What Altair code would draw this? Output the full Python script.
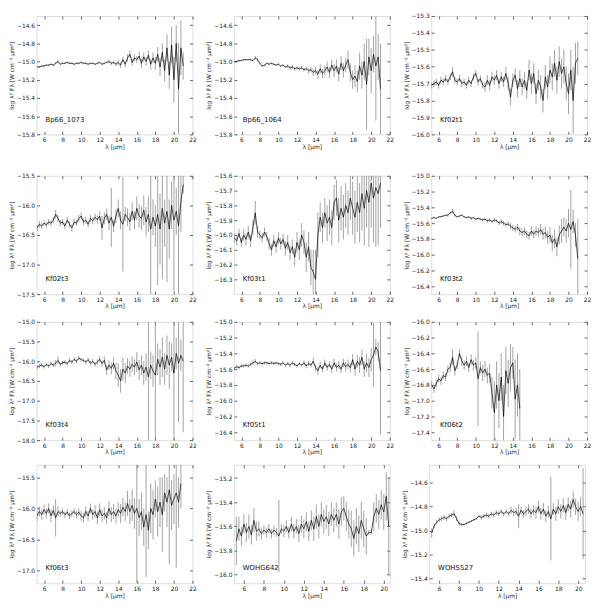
import altair as alt
import pandas as pd

# Wavelength grid (micron) shared by the spectra; each panel uses as many as it has values
wave = [5.25, 5.5, 5.75, 6.0, 6.25, 6.5, 6.75, 7.0, 7.25, 7.5,
        7.75, 8.0, 8.25, 8.5, 8.75, 9.0, 9.25, 9.5, 9.75, 10.0,
        10.25, 10.5, 10.75, 11.0, 11.25, 11.5, 11.75, 12.0, 12.25, 12.5,
        12.75, 13.0, 13.25, 13.5, 13.75, 14.0, 14.25, 14.5, 14.75, 15.0,
        15.25, 15.5, 15.75, 16.0, 16.25, 16.5, 16.75, 17.0, 17.25, 17.5,
        17.75, 18.0, 18.25, 18.5, 18.75, 19.0, 19.25, 19.5, 19.75, 20.0,
        20.25, 20.5, 20.75, 21.0]

names = ["Bp66_1073", "Bp66_1064", "Kf02t1", "Kf02t3", "Kf03t1", "Kf03t2",
         "Kf03t4", "Kf05t1", "Kf06t2", "Kf06t3", "WOHG642", "WOHS527"]

flux_bp66_1073 = [-15.06,-15.06,-15.05,-15.05,-15.04,-15.04,-15.03,-15.04,-15.02,-15.00,
 -15.03,-15.02,-15.02,-15.01,-15.02,-15.02,-15.03,-15.02,-15.02,-15.01,
 -15.02,-15.02,-15.03,-15.02,-15.02,-15.03,-15.02,-15.01,-15.03,-15.02,
 -15.01,-15.00,-15.02,-15.01,-15.03,-15.01,-15.04,-14.98,-15.03,-14.96,
 -14.92,-15.01,-14.96,-14.98,-14.94,-15.02,-14.95,-15.00,-14.93,-15.03,
 -14.96,-15.02,-14.92,-15.06,-14.90,-15.10,-14.85,-15.15,-14.82,-15.20,
 -14.80,-15.30,-14.85,-15.05]
err_bp66_1073 = [0.01,0.01,0.01,0.01,0.01,0.01,0.01,0.01,0.01,0.02,
 0.01,0.01,0.01,0.01,0.01,0.01,0.01,0.01,0.01,0.01,
 0.01,0.01,0.01,0.01,0.01,0.01,0.01,0.01,0.01,0.01,
 0.01,0.02,0.02,0.02,0.02,0.03,0.03,0.03,0.03,0.04,
 0.04,0.04,0.04,0.04,0.05,0.05,0.05,0.05,0.05,0.06,
 0.06,0.07,0.08,0.10,0.10,0.12,0.15,0.15,0.20,0.25,
 0.20,0.50,0.30,0.15]

flux_bp66_1064 = [-15.00,-15.00,-14.99,-14.99,-14.98,-14.98,-14.98,-14.98,-14.99,-14.96,
 -14.98,-15.02,-15.05,-15.04,-15.02,-15.03,-15.02,-15.03,-15.04,-15.03,
 -15.05,-15.04,-15.06,-15.05,-15.07,-15.06,-15.08,-15.07,-15.08,-15.07,
 -15.09,-15.08,-15.10,-15.09,-15.12,-15.10,-15.14,-15.08,-15.13,-15.10,
 -15.06,-15.12,-15.04,-15.10,-15.05,-15.14,-15.02,-15.10,-15.04,-14.98,
 -15.12,-15.20,-15.16,-15.22,-15.05,-15.15,-15.00,-15.25,-14.95,-15.10,
 -14.92,-15.05,-14.95,-15.30]
err_bp66_1064 = [0.01,0.01,0.01,0.01,0.01,0.01,0.01,0.01,0.01,0.02,
 0.02,0.01,0.01,0.01,0.01,0.01,0.01,0.01,0.01,0.01,
 0.01,0.01,0.01,0.02,0.02,0.02,0.02,0.02,0.02,0.02,
 0.02,0.02,0.03,0.03,0.04,0.04,0.05,0.05,0.05,0.05,
 0.06,0.06,0.06,0.07,0.07,0.08,0.08,0.08,0.08,0.10,
 0.10,0.10,0.12,0.12,0.15,0.15,0.20,0.50,0.20,0.25,
 0.20,0.60,0.25,0.50]

flux_kf02t1 = [-15.71,-15.70,-15.69,-15.71,-15.68,-15.69,-15.67,-15.69,-15.66,-15.63,
 -15.68,-15.69,-15.67,-15.70,-15.69,-15.71,-15.68,-15.70,-15.66,-15.64,
 -15.69,-15.67,-15.71,-15.72,-15.68,-15.71,-15.66,-15.68,-15.65,-15.70,
 -15.66,-15.69,-15.64,-15.70,-15.78,-15.68,-15.65,-15.73,-15.67,-15.72,
 -15.68,-15.74,-15.62,-15.70,-15.64,-15.76,-15.68,-15.72,-15.80,-15.66,
 -15.72,-15.62,-15.66,-15.58,-15.68,-15.57,-15.64,-15.60,-15.70,-15.76,
 -15.62,-15.80,-15.58,-15.55]
err_kf02t1 = [0.02,0.02,0.02,0.02,0.02,0.02,0.02,0.02,0.02,0.03,
 0.02,0.02,0.02,0.02,0.02,0.02,0.02,0.02,0.02,0.02,
 0.02,0.02,0.02,0.03,0.03,0.03,0.03,0.03,0.03,0.03,
 0.03,0.03,0.04,0.04,0.05,0.04,0.04,0.05,0.05,0.05,
 0.05,0.05,0.06,0.06,0.06,0.06,0.06,0.07,0.07,0.07,
 0.07,0.08,0.08,0.08,0.08,0.09,0.09,0.10,0.10,0.12,
 0.12,0.20,0.12,0.10]

flux_kf02t3 = [-16.38,-16.32,-16.35,-16.30,-16.33,-16.28,-16.30,-16.25,-16.15,-16.22,
 -16.30,-16.28,-16.35,-16.25,-16.32,-16.38,-16.28,-16.30,-16.22,-16.18,
 -16.28,-16.25,-16.32,-16.22,-16.26,-16.20,-16.24,-16.18,-16.38,-16.22,
 -16.15,-16.30,-16.20,-16.35,-16.18,-16.05,-16.25,-16.32,-16.15,-16.20,
 -16.28,-16.10,-16.25,-16.05,-16.18,-16.22,-16.08,-16.28,-16.15,-16.40,
 -16.20,-16.35,-16.15,-16.40,-16.05,-16.30,-16.10,-16.40,-16.00,-16.25,
 -16.10,-16.35,-15.95,-15.65]
err_kf02t3 = [0.05,0.05,0.05,0.05,0.05,0.05,0.05,0.05,0.07,0.06,
 0.05,0.05,0.06,0.05,0.05,0.06,0.05,0.05,0.06,0.06,
 0.06,0.06,0.06,0.06,0.06,0.06,0.07,0.08,0.20,0.10,
 0.10,0.12,0.50,0.10,0.12,0.15,0.15,0.80,0.12,0.15,
 0.15,0.15,0.15,0.20,0.20,0.20,0.25,0.25,0.30,1.20,
 0.30,0.35,1.20,0.60,1.20,0.40,1.20,0.50,0.40,1.20,
 0.40,1.20,0.50,0.15]

flux_kf03t1 = [-16.02,-16.04,-15.99,-16.05,-16.00,-16.03,-15.98,-16.04,-15.95,-15.85,
 -15.98,-16.00,-16.02,-15.98,-16.01,-16.06,-16.10,-16.04,-16.08,-16.02,
 -16.06,-16.03,-16.09,-16.05,-16.12,-16.08,-16.15,-16.05,-16.10,-16.00,
 -16.05,-16.15,-16.08,-16.22,-16.25,-16.30,-16.00,-15.88,-15.95,-15.85,
 -15.92,-15.88,-15.95,-15.78,-15.75,-15.90,-15.82,-15.88,-15.80,-15.85,
 -15.75,-15.82,-15.88,-15.78,-15.85,-15.72,-15.82,-15.70,-15.78,-15.65,
 -15.75,-15.68,-15.72,-15.65]
err_kf03t1 = [0.03,0.03,0.03,0.03,0.04,0.04,0.04,0.04,0.05,0.08,
 0.04,0.03,0.03,0.03,0.03,0.04,0.04,0.04,0.04,0.04,
 0.04,0.04,0.05,0.05,0.05,0.05,0.06,0.07,0.07,0.08,
 0.08,0.10,0.10,0.12,0.15,0.20,0.15,0.10,0.10,0.10,
 0.12,0.12,0.12,0.12,0.12,0.15,0.15,0.15,0.15,0.15,
 0.15,0.18,0.18,0.20,0.20,0.25,0.25,0.25,0.30,0.30,
 0.30,0.40,0.35,0.30]

flux_kf03t2 = [-15.54,-15.53,-15.54,-15.52,-15.52,-15.51,-15.50,-15.50,-15.47,-15.45,
 -15.50,-15.52,-15.51,-15.50,-15.52,-15.53,-15.52,-15.54,-15.53,-15.55,
 -15.54,-15.55,-15.56,-15.55,-15.57,-15.56,-15.58,-15.56,-15.57,-15.60,
 -15.58,-15.60,-15.62,-15.61,-15.64,-15.66,-15.68,-15.65,-15.70,-15.72,
 -15.70,-15.74,-15.76,-15.70,-15.74,-15.70,-15.72,-15.68,-15.74,-15.72,
 -15.78,-15.75,-15.85,-15.80,-15.90,-15.75,-15.70,-15.65,-15.70,-15.60,
 -15.68,-15.58,-15.75,-16.05]
err_kf03t2 = [0.01,0.01,0.01,0.01,0.01,0.01,0.01,0.02,0.02,0.03,
 0.02,0.01,0.01,0.01,0.01,0.01,0.01,0.02,0.01,0.01,
 0.01,0.01,0.02,0.02,0.02,0.02,0.02,0.03,0.02,0.03,
 0.03,0.03,0.03,0.03,0.04,0.04,0.04,0.04,0.05,0.05,
 0.05,0.05,0.05,0.06,0.05,0.06,0.06,0.07,0.07,0.08,
 0.08,0.10,0.10,0.12,0.12,0.12,0.15,0.12,0.15,0.18,
 0.50,0.15,0.15,0.50]

flux_kf03t4 = [-16.15,-16.12,-16.10,-16.14,-16.08,-16.12,-16.06,-16.10,-16.05,-15.98,
 -16.08,-16.04,-16.02,-16.06,-15.98,-16.02,-15.95,-16.00,-15.92,-15.96,
 -15.98,-16.02,-15.96,-16.05,-16.00,-16.08,-16.02,-15.95,-16.06,-15.98,
 -16.22,-16.10,-16.18,-16.05,-16.25,-16.35,-16.50,-16.20,-16.30,-16.12,
 -16.20,-16.08,-16.15,-16.02,-16.22,-16.10,-16.30,-16.15,-16.40,-16.10,
 -16.25,-16.35,-15.95,-16.15,-15.90,-16.20,-15.85,-16.10,-15.90,-16.30,
 -15.80,-16.05,-15.85,-16.00]
err_kf03t4 = [0.05,0.05,0.05,0.05,0.05,0.05,0.05,0.05,0.08,0.10,
 0.05,0.05,0.05,0.05,0.05,0.05,0.05,0.05,0.05,0.05,
 0.05,0.05,0.05,0.06,0.06,0.06,0.07,0.07,0.08,0.10,
 0.12,0.12,0.15,0.15,0.20,0.30,0.30,0.30,0.25,0.20,
 0.20,0.20,0.20,0.25,0.25,0.25,0.30,0.35,1.80,0.35,
 0.40,1.80,0.40,0.45,0.50,0.40,0.50,0.60,0.35,1.80,
 0.40,1.50,0.40,1.80]

flux_kf05t1 = [-15.59,-15.57,-15.58,-15.56,-15.56,-15.55,-15.56,-15.54,-15.52,-15.50,
 -15.53,-15.52,-15.53,-15.52,-15.52,-15.53,-15.52,-15.53,-15.52,-15.53,
 -15.54,-15.52,-15.55,-15.53,-15.55,-15.52,-15.54,-15.56,-15.53,-15.55,
 -15.52,-15.56,-15.53,-15.55,-15.50,-15.58,-15.62,-15.55,-15.60,-15.52,
 -15.58,-15.54,-15.60,-15.52,-15.58,-15.55,-15.60,-15.52,-15.57,-15.54,
 -15.58,-15.48,-15.60,-15.50,-15.55,-15.45,-15.60,-15.52,-15.58,-15.48,
 -15.42,-15.32,-15.38,-15.62]
err_kf05t1 = [0.02,0.02,0.02,0.02,0.02,0.02,0.02,0.02,0.03,0.03,
 0.02,0.02,0.02,0.02,0.02,0.02,0.02,0.02,0.02,0.02,
 0.02,0.02,0.02,0.02,0.02,0.02,0.02,0.02,0.02,0.02,
 0.03,0.03,0.03,0.03,0.04,0.04,0.05,0.04,0.04,0.04,
 0.04,0.04,0.05,0.05,0.05,0.05,0.05,0.05,0.06,0.06,
 0.06,0.07,0.08,0.08,0.10,0.10,0.10,0.12,0.12,0.15,
 0.40,0.10,0.12,0.80]

flux_kf06t2 = [-16.80,-16.85,-16.78,-16.72,-16.75,-16.68,-16.70,-16.60,-16.58,-16.45,
 -16.62,-16.55,-16.40,-16.50,-16.55,-16.50,-16.58,-16.48,-16.55,-16.52,
 -16.72,-16.58,-16.65,-16.60,-16.68,-16.65,-16.90,-17.15,-16.80,-17.00,
 -16.70,-17.20,-16.62,-16.78,-16.58,-16.52,-16.98,-16.80,-17.10]
err_kf06t2 = [0.05,0.05,0.05,0.05,0.05,0.05,0.05,0.05,0.06,0.10,
 0.06,0.05,0.05,0.06,0.06,0.06,0.06,0.07,0.07,0.07,
 0.60,0.08,0.10,0.10,0.10,0.12,0.20,0.40,0.30,0.35,
 0.30,0.40,0.30,0.30,0.30,0.20,0.50,0.40,0.50]

flux_kf06t3 = [-16.12,-16.05,-16.10,-16.02,-16.08,-16.00,-16.12,-16.03,-16.15,-16.05,
 -16.08,-16.05,-16.10,-16.06,-16.12,-16.08,-16.05,-16.10,-16.06,-16.12,
 -16.15,-16.05,-16.12,-16.00,-16.10,-16.05,-16.15,-16.02,-16.12,-16.08,
 -16.15,-16.00,-16.10,-16.05,-16.12,-16.02,-16.08,-15.98,-16.05,-15.92,
 -16.05,-15.95,-16.08,-16.00,-16.15,-16.05,-16.30,-16.10,-16.35,-16.00,
 -16.10,-15.85,-16.05,-15.90,-16.10,-15.75,-15.90,-15.70,-15.95,-15.85,
 -15.75,-15.90,-15.60]
err_kf06t3 = [0.08,0.08,0.08,0.08,0.08,0.08,0.10,0.08,0.30,0.08,
 0.05,0.05,0.05,0.05,0.05,0.05,0.05,0.06,0.06,0.08,
 0.08,0.08,0.08,0.08,0.08,0.10,0.10,0.10,0.10,0.10,
 0.10,0.12,0.12,0.12,0.12,0.12,0.15,0.15,0.15,0.20,
 0.20,0.25,0.25,1.20,0.30,0.30,0.30,1.00,0.30,0.40,
 0.40,0.30,0.40,0.40,0.60,0.30,0.40,1.20,0.40,0.40,
 1.20,0.40,0.40]

flux_wohg642 = [-15.72,-15.62,-15.68,-15.58,-15.65,-15.60,-15.67,-15.55,-15.64,-15.62,
 -15.66,-15.63,-15.65,-15.62,-15.66,-15.63,-15.65,-15.68,-15.62,-15.64,
 -15.60,-15.65,-15.58,-15.64,-15.60,-15.66,-15.58,-15.62,-15.56,-15.64,
 -15.55,-15.62,-15.52,-15.60,-15.50,-15.56,-15.52,-15.58,-15.50,-15.55,
 -15.50,-15.58,-15.48,-15.45,-15.52,-15.58,-15.62,-15.70,-15.60,-15.66,
 -15.55,-15.62,-15.68,-15.65,-15.65,-15.52,-15.45,-15.50,-15.42,-15.48,
 -15.35,-15.60]
err_wohg642 = [0.20,0.10,0.08,0.08,0.08,0.10,0.08,0.10,0.08,0.06,
 0.05,0.04,0.04,0.04,0.04,0.04,0.04,0.30,0.04,0.05,
 0.05,0.05,0.06,0.06,0.06,0.07,0.07,0.08,0.08,0.08,
 0.08,0.10,0.10,0.10,0.10,0.10,0.10,0.10,0.10,0.10,
 0.10,0.12,0.12,0.10,0.12,0.12,0.15,0.15,0.15,0.15,
 0.15,0.15,0.15,0.02,0.02,0.12,0.12,0.12,0.12,0.15,
 0.20,0.40]

flux_wohs527 = [-15.02,-14.96,-14.93,-14.91,-14.90,-14.89,-14.90,-14.88,-14.87,-14.86,
 -14.90,-14.94,-14.95,-14.95,-14.94,-14.93,-14.92,-14.91,-14.90,-14.88,
 -14.89,-14.88,-14.87,-14.88,-14.86,-14.87,-14.85,-14.86,-14.84,-14.86,
 -14.84,-14.86,-14.83,-14.85,-14.84,-14.88,-14.83,-14.86,-14.84,-14.82,
 -14.86,-14.83,-14.85,-14.80,-14.86,-14.82,-14.88,-14.84,-14.90,-14.82,
 -14.86,-14.80,-14.84,-14.79,-14.85,-14.78,-14.82,-14.74,-14.80,-14.84,
 -14.80,-14.86]
err_wohs527 = [0.04,0.02,0.02,0.02,0.02,0.02,0.02,0.02,0.02,0.03,
 0.02,0.02,0.01,0.01,0.01,0.01,0.01,0.01,0.01,0.01,
 0.02,0.02,0.02,0.02,0.02,0.02,0.02,0.02,0.02,0.02,
 0.02,0.02,0.03,0.03,0.03,0.10,0.03,0.03,0.04,0.04,
 0.04,0.04,0.05,0.05,0.05,0.05,0.05,0.05,0.35,0.05,
 0.06,0.06,0.06,0.06,0.06,0.06,0.07,0.07,0.07,0.08,
 0.08,0.38]

fluxes = [flux_bp66_1073, flux_bp66_1064, flux_kf02t1, flux_kf02t3, flux_kf03t1, flux_kf03t2,
          flux_kf03t4, flux_kf05t1, flux_kf06t2, flux_kf06t3, flux_wohg642, flux_wohs527]
errors = [err_bp66_1073, err_bp66_1064, err_kf02t1, err_kf02t3, err_kf03t1, err_kf03t2,
          err_kf03t4, err_kf05t1, err_kf06t2, err_kf06t3, err_wohg642, err_wohs527]

y_domains = [[-15.8, -14.5], [-15.8, -14.5], [-16.0, -15.3], [-17.5, -15.5],
             [-16.4, -15.6], [-16.5, -15.0], [-18.0, -15.0], [-16.5, -15.0],
             [-17.5, -16.0], [-17.2, -15.3], [-16.07, -15.09], [-15.44, -14.45]]
y_ticks = [[-15.8, -15.6, -15.4, -15.2, -15.0, -14.8, -14.6],
           [-15.8, -15.6, -15.4, -15.2, -15.0, -14.8, -14.6],
           [-16.0, -15.9, -15.8, -15.7, -15.6, -15.5, -15.4, -15.3],
           [-17.5, -17.0, -16.5, -16.0, -15.5],
           [-16.3, -16.2, -16.1, -16.0, -15.9, -15.8, -15.7, -15.6],
           [-16.4, -16.2, -16.0, -15.8, -15.6, -15.4, -15.2, -15.0],
           [-18.0, -17.5, -17.0, -16.5, -16.0, -15.5, -15.0],
           [-16.4, -16.2, -16.0, -15.8, -15.6, -15.4, -15.2, -15.0],
           [-17.4, -17.2, -17.0, -16.8, -16.6, -16.4, -16.2, -16.0],
           [-17.0, -16.5, -16.0, -15.5],
           [-16.0, -15.8, -15.6, -15.4, -15.2],
           [-15.4, -15.2, -15.0, -14.8, -14.6]]
x_domains = [[5.2, 22.0]] * 10 + [[5.0, 20.6], [5.0, 20.7]]
x_ticks_long = [6, 8, 10, 12, 14, 16, 18, 20, 22]
x_ticks_short = [6, 8, 10, 12, 14, 16, 18, 20]
x_ticks = [x_ticks_long] * 10 + [x_ticks_short] * 2

W, H = 158, 120
YTITLE = "log λ² Fλ [W cm⁻² μm²]"

tick_style = dict(domain=False, grid=False, tickSize=3, offset=-3, tickColor="#222",
                  tickWidth=0.7, minExtent=0)
text_style = dict(labelFontSize=6, labelColor="#222", titleFontSize=6,
                  titleFontWeight="normal", titleColor="#222", labelFont="DejaVu Sans",
                  titleFont="DejaVu Sans")


def panel(i):
    vals = fluxes[i]
    errs = errors[i]
    df = pd.DataFrame({
        "wl": wave[:len(vals)],
        "f": vals,
        "lo": [v - e for v, e in zip(vals, errs)],
        "hi": [v + e for v, e in zip(vals, errs)],
    })
    xs = alt.Scale(domain=x_domains[i], nice=False, zero=False)
    ys = alt.Scale(domain=y_domains[i], nice=False, zero=False)
    xax = alt.Axis(values=x_ticks[i], title="λ [μm]", format="d", labelPadding=2,
                   titlePadding=1, labelFlush=False, **tick_style, **text_style)
    yax = alt.Axis(values=y_ticks[i], title=YTITLE, format=".1f", labelPadding=2,
                   titlePadding=2, labelFlush=False, **tick_style, **text_style)
    base = alt.Chart(df)
    bars = base.mark_rule(color="#8a8a8a", strokeWidth=0.8, clip=True).encode(
        x=alt.X("wl:Q", scale=xs, axis=xax),
        y=alt.Y("lo:Q", scale=ys, axis=yax),
        y2="hi:Q",
    )
    line = base.mark_line(color="black", strokeWidth=0.7, clip=True).encode(
        x=alt.X("wl:Q", scale=xs, axis=None),
        y=alt.Y("f:Q", scale=ys, axis=None),
    )
    ticks2 = base.mark_point(opacity=0).encode(
        x=alt.X("wl:Q", scale=xs, axis=alt.Axis(orient="top", values=x_ticks[i], labels=False,
                                               title=None, maxExtent=0, **tick_style)),
        y=alt.Y("f:Q", scale=ys, axis=alt.Axis(orient="right", values=y_ticks[i], labels=False,
                                              title=None, maxExtent=0, **tick_style)),
    )
    label = alt.Chart(pd.DataFrame({"t": [names[i]]})).mark_text(
        align="left", baseline="middle", fontSize=7, font="DejaVu Sans", color="#111"
    ).encode(x=alt.value(9), y=alt.value(H - 15), text="t:N")
    return alt.layer(bars, line, ticks2, label).resolve_scale(
        x="independent", y="independent").properties(width=W, height=H)


rows = [alt.hconcat(*[panel(3 * r + c) for c in range(3)], spacing=8) for r in range(4)]
chart = alt.vconcat(rows[0], alt.vconcat(rows[1], rows[2], rows[3], spacing=8), spacing=22)
chart = chart.properties(padding=0).configure_view(stroke="#444", strokeWidth=0.8).configure(
    background="white")

chart.save("out.html", embed_options={"renderer": "svg", "actions": False})
